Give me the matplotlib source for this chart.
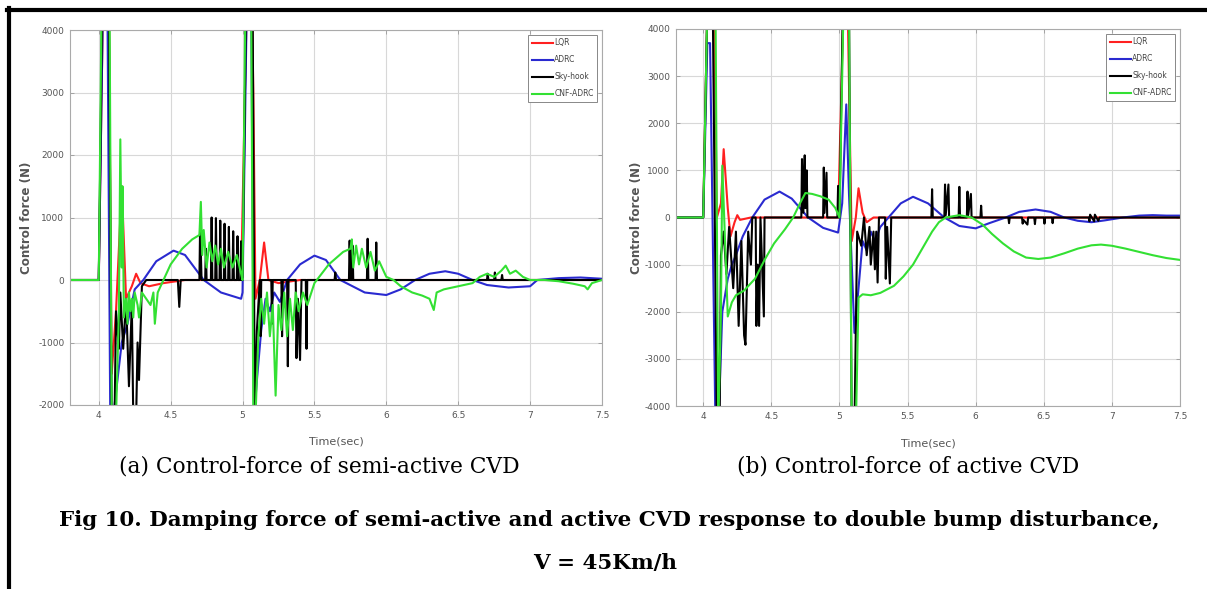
import numpy as np
import matplotlib.pyplot as plt
from matplotlib.lines import Line2D

plt.rcParams['axes.unicode_minus'] = False

W, H = 1207, 589

# ---- (a) semi-active CVD: (time, force) points ----
lqr_a_t = [3.8, 4.0, 4.03, 4.07, 4.09, 4.12, 4.16, 4.19, 4.23, 4.26, 4.29, 4.35, 4.45, 4.6, 4.99,
           5.03, 5.065, 5.075, 5.09, 5.12, 5.15, 5.18, 5.25, 5.4, 7.5]
lqr_a_f = [0, 0, 4500, 4500, -1500, -500, 1500, -300, -100, 100, -50, -100, -50, 0, 0,
           4500, 4500, 3000, -300, 0, 600, 0, -50, 0, 0]

adrc_a_t = [3.8, 4.0, 4.03, 4.06, 4.08, 4.1, 4.12, 4.16, 4.2, 4.25, 4.31, 4.4, 4.52, 4.6, 4.73,
            4.85, 4.99, 5.0, 5.03, 5.06, 5.08, 5.1, 5.13, 5.16, 5.19, 5.22, 5.26, 5.31, 5.4,
            5.5, 5.58, 5.68, 5.85, 6.0, 6.1, 6.2, 6.3, 6.41, 6.5, 6.6, 6.7, 6.85, 7.0, 7.05,
            7.2, 7.35, 7.5]
adrc_a_f = [0, 0, 4500, 4500, -2200, -2200, -1800, -1000, -700, -150, 0, 300, 470, 400, 0,
            -200, -300, -200, 4500, 4500, -2200, -1600, -800, -300, -500, -200, -350, 0, 250,
            390, 320, 0, -200, -240, -150, 0, 100, 140, 100, 0, -80, -120, -100, 0,
            30, 40, 20]

sky_a_t = [3.8, 4.0, 4.025, 4.07, 4.09, 4.11, 4.12, 4.14, 4.15, 4.17, 4.19, 4.21, 4.23, 4.24,
           4.26, 4.27, 4.28, 4.30, 4.33, 4.55, 4.56, 4.57,
           4.70, 4.705, 4.715, 4.74, 4.745, 4.75, 4.78, 4.785, 4.79, 4.81, 4.815, 4.82,
           4.84, 4.845, 4.85, 4.87, 4.875, 4.88, 4.90, 4.905, 4.91, 4.93, 4.935, 4.94,
           4.96, 4.965, 4.97, 4.985, 4.99, 4.995,
           5.0, 5.025, 5.07, 5.085, 5.1, 5.12, 5.125, 5.13, 5.2, 5.205, 5.21, 5.27, 5.275,
           5.28, 5.31, 5.315, 5.32, 5.37, 5.375, 5.385, 5.40, 5.41, 5.44, 5.445, 5.45,
           5.64, 5.645, 5.65, 5.74, 5.745, 5.75, 5.76, 5.765, 5.77, 5.865, 5.87, 5.875,
           5.925, 5.93, 5.935, 6.7, 6.705, 6.71, 6.75, 6.755, 6.76, 6.8, 6.805, 6.81, 7.5]
sky_a_f = [0, 0, 4500, 4500, -2200, -2200, -500, -1100, -200, -1100, -300, -1700, -400, -2200,
           -2200, -1000, -1600, -100, 0, 0, -430, 0,
           0, 880, 0, 0, 500, 0, 0, 1000, 0, 0, 990, 0,
           0, 950, 0, 0, 900, 0, 0, 850, 0, 0, 780, 0,
           0, 700, 0, 0, 620, 0,
           0, 4500, 4500, -2200, -800, 0, -900, 0, 0, -700, 0, 0, -900,
           0, 0, -1380, 0, 0, -1250, -300, -1280, 0, 0, -1100, 0,
           0, 120, 0, 0, 630, 0, 0, 550, 0, 0, 660, 0,
           0, 600, 0, 0, 100, 0, 0, 120, 0, 0, 80, 0, 0]

cnf_a_t = [3.8, 4.0, 4.02, 4.075, 4.09, 4.12, 4.14, 4.15, 4.16, 4.165, 4.175, 4.19, 4.2, 4.21,
           4.22, 4.23, 4.24, 4.25, 4.27, 4.28, 4.3, 4.33, 4.36, 4.38, 4.39, 4.41, 4.45, 4.5,
           4.58, 4.65, 4.7, 4.71, 4.72, 4.73, 4.75, 4.77, 4.79, 4.81, 4.83, 4.85, 4.87, 4.9,
           4.93, 4.96, 4.99, 5.0, 5.02, 5.06, 5.075, 5.09, 5.11, 5.13, 5.15, 5.17, 5.19, 5.21,
           5.23, 5.25, 5.27, 5.29, 5.31, 5.33, 5.35, 5.37, 5.39, 5.42, 5.45, 5.5, 5.6, 5.7,
           5.75, 5.76, 5.77, 5.79, 5.81, 5.83, 5.86, 5.89, 5.92, 5.95, 6.0, 6.05, 6.1, 6.18,
           6.25, 6.3, 6.33, 6.35, 6.4, 6.5, 6.6, 6.65, 6.7, 6.75, 6.8, 6.83, 6.86, 6.9, 6.95,
           7.0, 7.1, 7.2, 7.3, 7.38, 7.4, 7.43, 7.5]
cnf_a_f = [0, 0, 4500, 4500, -2200, -2200, -500, 2250, 200, 1500, -600, -300, -700, -200,
           -500, -300, -600, -200, -400, -600, -200, -300, -400, -200, -700, -200, 0, 250,
           500, 650, 720, 1250, 400, 800, 200, 600, 300, 550, 250, 500, 200, 450,
           200, 400, 100, 0, 4500, 4500, -2200, -2200, -900, -300, -700, -200, -900, -400,
           -1850, -400, -800, -200, -900, -300, -800, -200, -500, -200, -400, -50, 250, 450,
           500, 650, 200, 550, 250, 500, 200, 450, 150, 300, 50, 0, -100, -200,
           -250, -300, -480, -200, -150, -100, -50, 50, 100, 50, 150, 230, 100, 150, 50,
           0, 0, -20, -60, -100, -150, -50, 0]

# ---- (b) active CVD ----
lqr_b_t = [3.8, 4.0, 4.03, 4.08, 4.1, 4.13, 4.15, 4.18, 4.2, 4.23, 4.25, 4.27, 4.35, 4.99,
           5.03, 5.06, 5.09, 5.12, 5.14, 5.17, 5.2, 5.25, 7.5]
lqr_b_f = [0, 0, 4500, 4500, 0, 300, 1450, 200, -400, -100, 50, -50, 0, 0,
           4500, 4500, -500, 0, 620, 100, -100, 0, 0]

adrc_b_t = [3.8, 4.0, 4.03, 4.05, 4.09, 4.11, 4.14, 4.18, 4.21, 4.24, 4.29, 4.36, 4.45, 4.56,
            4.65, 4.77, 4.88, 4.99, 5.02, 5.05, 5.07, 5.11, 5.14, 5.17, 5.2, 5.23, 5.26, 5.3,
            5.36, 5.45, 5.54, 5.65, 5.77, 5.88, 6.0, 6.1, 6.22, 6.32, 6.44, 6.55, 6.65, 6.75,
            6.85, 6.95, 7.08, 7.2, 7.3, 7.4, 7.5]
adrc_b_f = [0, 0, 3700, 3700, -4500, -4500, -2000, -1300, -1000, -800, -400, 0, 380, 550,
            400, 0, -220, -320, 300, 2400, 500, -2450, -1500, -500, -700, -300, -500, -200,
            0, 300, 440, 300, 0, -180, -230, -120, 0, 120, 170, 120, 0, -70,
            -100, -60, 0, 40, 50, 40, 40]

sky_b_t = [3.8, 4.0, 4.03, 4.07, 4.1, 4.12, 4.13, 4.15, 4.17, 4.19, 4.22, 4.24, 4.26, 4.28,
           4.30, 4.31, 4.33, 4.35, 4.36, 4.385, 4.39, 4.40, 4.41, 4.42, 4.445, 4.45,
           4.72, 4.725, 4.735, 4.745, 4.75, 4.76, 4.765, 4.88, 4.885, 4.89, 4.905, 4.91,
           4.985, 4.99, 4.995, 5.0, 5.025, 5.07, 5.09, 5.11, 5.13, 5.16, 5.18, 5.2, 5.22,
           5.23, 5.25, 5.26, 5.27, 5.28, 5.29, 5.335, 5.34, 5.35, 5.37, 5.38,
           5.675, 5.68, 5.685, 5.77, 5.775, 5.78, 5.80, 5.805, 5.875, 5.88, 5.885, 5.935,
           5.94, 5.945, 5.965, 5.97, 6.035, 6.04, 6.045, 6.24, 6.245, 6.25, 6.34, 6.345,
           6.35, 6.38, 6.385, 6.43, 6.435, 6.44, 6.5, 6.505, 6.51, 6.56, 6.565, 6.57,
           6.83, 6.835, 6.84, 6.87, 6.875, 6.9, 6.91, 7.5]
sky_b_f = [0, 0, 4500, 4500, -4500, -4500, -800, -300, -1200, -200, -1500, -300, -2300, -500,
           -2500, -2700, -300, -1000, 0, 0, -2300, -1000, -2300, 0, -2100, 0,
           0, 1240, 100, 1320, 200, 1000, 0, 0, 1060, 100, 950, 0,
           0, 670, 0, 0, 4500, 4500, -4500, -4500, -300, -600, 0, -800, -200,
           -1000, -300, -1100, -300, -1380, 0, 0, -1300, -200, -1400, 0,
           0, 600, 0, 0, 700, 50, 700, 0, 0, 650, 0, 0,
           550, 50, 500, 0, 0, 250, 0, 0, -120, 0, 0, -130,
           -50, -150, 0, 0, -140, 0, 0, -130, 0, 0, -120, 0,
           0, -80, 60, -80, 60, -70, 0, 0]

cnf_b_t = [3.8, 4.0, 4.03, 4.09, 4.11, 4.13, 4.14, 4.16, 4.18, 4.21, 4.24, 4.3, 4.38, 4.45,
           4.52, 4.6, 4.66, 4.71, 4.75, 4.8, 4.86, 4.92, 4.97, 5.0, 5.03, 5.07, 5.09, 5.12,
           5.14, 5.17, 5.23, 5.3, 5.4, 5.47, 5.54, 5.62, 5.68, 5.73, 5.78, 5.88, 5.97, 6.05,
           6.12, 6.2, 6.28, 6.37, 6.46, 6.55, 6.65, 6.75, 6.85, 6.92, 7.0, 7.1, 7.2, 7.3,
           7.4, 7.5]
cnf_b_f = [0, 0, 4500, 4500, -4500, -2000, 1100, -500, -2100, -1800, -1650, -1550, -1300, -900,
           -550, -250, 0, 300, 520, 500, 450, 380, 200, 0, 4500, 4500, -4500, -4500,
           -1700, -1630, -1650, -1600, -1450, -1250, -1000, -600, -300, -100, 0, 50, 0, -150,
           -350, -550, -720, -850, -880, -850, -760, -660, -590, -575, -600, -660, -730, -800,
           -860, -900]

labels = ['LQR', 'ADRC', 'Sky-hook', 'CNF-ADRC']
colors = ['#ff2020', '#2a2ad0', '#000000', '#33e033']
x_ticks = [4, 4.5, 5, 5.5, 6, 6.5, 7, 7.5]
x_ticklabels = ['4', '4.5', '5', '5.5', '6', '6.5', '7', '7.5']
yticks_a = [-2000, -1000, 0, 1000, 2000, 3000, 4000]
yticks_b = [-4000, -3000, -2000, -1000, 0, 1000, 2000, 3000, 4000]

fig = plt.figure(figsize=(W / 100, H / 100), dpi=100)
fig.patch.set_facecolor('white')


def panel(rect, series, yticks, ylim, lab_x):
    ax = fig.add_axes(rect)
    for (t, f), c, lab in zip(series, colors, labels):
        ax.plot(t, f, color=c, lw=1.5, label=lab)
    ax.set_xlim(3.8, 7.5)
    ax.set_ylim(*ylim)
    ax.set_xticks(x_ticks)
    ax.set_xticklabels(x_ticklabels)
    ax.set_yticks(yticks)
    ax.grid(True, color='#d8d8d8', lw=0.8)
    ax.set_axisbelow(True)
    ax.tick_params(direction='in', top=True, right=True, length=3, width=0.6,
                   color='#999999', labelsize=6.5, labelcolor='#555555', pad=4)
    for s in ax.spines.values():
        s.set_color('#aaaaaa')
        s.set_linewidth(0.8)
    ax.set_ylabel('Control force (N)', fontsize=8.6, color='#555555', fontweight='bold')
    ax.yaxis.set_label_coords(lab_x, 0.5)
    ax.set_xlabel('Time(sec)', fontsize=8, color='#555555')
    ax.xaxis.set_label_coords(0.5, -0.085)
    leg = ax.legend(loc='upper right', fontsize=5.5, handlelength=2.8, handletextpad=0.1,
                    labelspacing=1.05, borderpad=0.5, borderaxespad=0.6, fancybox=False,
                    framealpha=1)
    leg.get_frame().set_edgecolor('#888888')
    leg.get_frame().set_linewidth(0.7)
    for txt in leg.get_texts():
        txt.set_color('#444444')
    return ax


panel([70 / W, 1 - 405 / H, 532 / W, 375 / H],
      [(lqr_a_t, lqr_a_f), (adrc_a_t, adrc_a_f), (sky_a_t, sky_a_f), (cnf_a_t, cnf_a_f)],
      yticks_a, (-2000, 4000), -0.07)
panel([676 / W, 1 - 406 / H, 504 / W, 377 / H],
      [(lqr_b_t, lqr_b_f), (adrc_b_t, adrc_b_f), (sky_b_t, sky_b_f), (cnf_b_t, cnf_b_f)],
      yticks_b, (-4000, 4000), -0.066)

serif = ['DejaVu Serif']
fig.text(319 / W, 1 - 467 / H, '(a) Control-force of semi-active CVD', ha='center', va='center',
         fontsize=15.7, family=serif)
fig.text(908 / W, 1 - 467 / H, '(b) Control-force of active CVD', ha='center', va='center',
         fontsize=15.7, family=serif)
fig.text(609 / W, 1 - 520 / H,
         'Fig 10. Damping force of semi-active and active CVD response to double bump disturbance,',
         ha='center', va='center', fontsize=15.4, family=serif, fontweight='bold')
fig.text(605 / W, 1 - 563 / H, 'V = 45Km/h', ha='center', va='center', fontsize=15.4,
         family=serif, fontweight='bold')

# page frame: top and left rules
fig.add_artist(Line2D([7 / W, 1], [1 - 10 / H, 1 - 10 / H], color='black', lw=3))
fig.add_artist(Line2D([8.5 / W, 8.5 / W], [0, 1 - 8 / H], color='black', lw=3))

fig.savefig('out.png', dpi=100)
